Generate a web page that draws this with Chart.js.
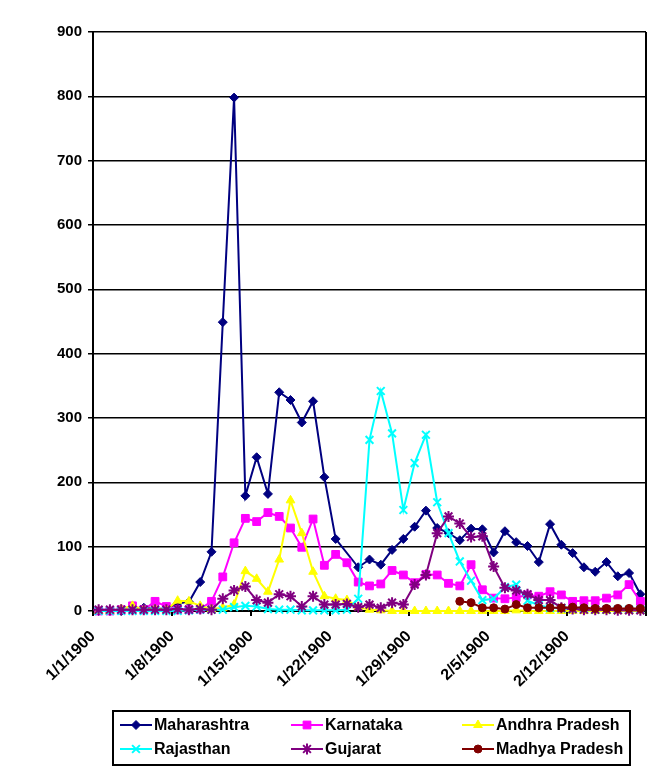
<!DOCTYPE html>
<html lang="en">
<head>
    <meta charset="utf-8">
    <title>Daily cases by state</title>
    <script src="https://cdn.jsdelivr.net/npm/chart.js"></script>
    <style>
        html, body { margin: 0; padding: 0; background: #fff; }
        canvas { display: block; }
    </style>
</head>
<body>
    <canvas id="chart" width="671" height="777"></canvas>
    <script>
        // one category per day, 1/1/1900 .. 2/18/1900
        const dates = [
            '1/1/1900', '1/2/1900', '1/3/1900', '1/4/1900', '1/5/1900', '1/6/1900', '1/7/1900',
            '1/8/1900', '1/9/1900', '1/10/1900', '1/11/1900', '1/12/1900', '1/13/1900', '1/14/1900',
            '1/15/1900', '1/16/1900', '1/17/1900', '1/18/1900', '1/19/1900', '1/20/1900', '1/21/1900',
            '1/22/1900', '1/23/1900', '1/24/1900', '1/25/1900', '1/26/1900', '1/27/1900', '1/28/1900',
            '1/29/1900', '1/30/1900', '1/31/1900', '2/1/1900', '2/2/1900', '2/3/1900', '2/4/1900',
            '2/5/1900', '2/6/1900', '2/7/1900', '2/8/1900', '2/9/1900', '2/10/1900', '2/11/1900',
            '2/12/1900', '2/13/1900', '2/14/1900', '2/15/1900', '2/16/1900', '2/17/1900', '2/18/1900'
        ];

        const maharashtra = [0, 0, 0, 2, 5, 3, 4, 12, 14, 45,
            92, 449, 798, 179, 239, 182, 340, 328, 293, 326,
            208, 112, null, 68, 80, 72, 95, 112, 131, 156,
            129, 121, 110, 128, 127, 91, 124, 107, 101, 76,
            135, 103, 90, 68, 61, 76, 54, 59, 26];
        const karnataka = [0, 0, 2, 8, 2, 15, 7, 2, 2, 3,
            15, 53, 106, 144, 139, 153, 147, 129, 99, 143,
            71, 88, 75, 45, 39, 42, 63, 56, 44, 57,
            56, 43, 39, 72, 33, 20, 19, 21, 25, 23,
            30, 25, 15, 16, 16, 20, 25, 41, 15];
        const andhraPradesh = [0, 0, 3, 8, 2, 3, 2, 16, 15, 8,
            3, 5, 10, 62, 50, 30, 80, 172, 121, 61,
            23, 19, 17, 6, 2, 1, 0, 0, 0, 0,
            0, 0, 0, 0, 0, 0, 0, 1, 0, 0,
            0, 0, 0, 0, 0, 0, 0, 0, 0];
        const rajasthan = [0, 0, 0, 0, 0, 0, 0, 0, 1, 2,
            2, 2, 6, 8, 7, 3, 2, 2, 1, 1,
            1, 1, 2, 19, 266, 342, 276, 157, 230, 274,
            169, 121, 77, 47, 17, 19, 37, 41, 16, 9,
            5, 4, 3, 3, 2, 2, 2, 2, 2];
        const gujarat = [2, 2, 2, 2, 2, 2, 2, 3, 2, 3,
            2, 19, 32, 38, 17, 13, 26, 23, 7, 23,
            10, 10, 11, 6, 10, 5, 13, 10, 41, 56,
            121, 147, 136, 115, 116, 69, 36, 32, 26, 17,
            17, 5, 3, 2, 2, 2, 1, 1, 1];
        const madhyaPradesh = [null, null, null, null, null, null, null, null, null, null,
            null, null, null, null, null, null, null, null, null, null,
            null, null, null, null, null, null, null, null, null, null,
            null, null, 15, 13, 5, 5, 3, 10, 5, 5,
            5, 5, 6, 5, 4, 4, 4, 4, 4];

        const yTicks = [0, 100, 200, 300, 400, 500, 600, 700, 800, 900];

        const FONT = '"Liberation Sans", Arial, sans-serif';

        // points sit in the middle of each day, tick marks on the day boundaries
        function toPoints(values) {
            return values.map((v, i) => ({ x: i + 0.5, y: v }));
        }

        function series(label, values, color, style, radius, borderWidth, order) {
            return {
                label: label,
                data: toPoints(values),
                borderColor: color,
                backgroundColor: color,
                borderWidth: 2,
                pointStyle: style,
                pointRadius: radius,
                pointBackgroundColor: color,
                pointBorderColor: color,
                pointBorderWidth: borderWidth,
                tension: 0,
                spanGaps: true,
                clip: false,
                order: order
            };
        }

        const boxLegend = {
            id: 'boxLegend',
            afterDraw(chart) {
                const ctx = chart.ctx;
                ctx.save();
                ctx.strokeStyle = '#000';
                ctx.lineWidth = 2;
                ctx.strokeRect(113, 711, 517, 54);
                ctx.font = 'bold 16px ' + FONT;
                ctx.textBaseline = 'middle';
                chart.data.datasets.forEach((ds, i) => {
                    const x = 120 + (i % 3) * 171;
                    const y = 725 + Math.floor(i / 3) * 24;
                    ctx.strokeStyle = ds.borderColor;
                    ctx.lineWidth = 2;
                    ctx.beginPath();
                    ctx.moveTo(x, y);
                    ctx.lineTo(x + 32, y);
                    ctx.stroke();
                    ctx.fillStyle = ds.pointBackgroundColor;
                    ctx.strokeStyle = ds.pointBorderColor;
                    ctx.lineWidth = ds.pointBorderWidth;
                    Chart.helpers.drawPoint(ctx, {
                        pointStyle: ds.pointStyle,
                        radius: ds.pointRadius,
                        rotation: 0,
                        borderWidth: ds.pointBorderWidth
                    }, x + 16, y);
                    ctx.fillStyle = '#000';
                    ctx.fillText(ds.label, x + 34, y + 1);
                });
                ctx.restore();
            }
        };

        // right edge of the plot area
        const plotFrame = {
            id: 'plotFrame',
            afterDraw(chart) {
                const a = chart.chartArea;
                const ctx = chart.ctx;
                ctx.save();
                ctx.strokeStyle = '#000';
                ctx.lineWidth = 2;
                ctx.beginPath();
                ctx.moveTo(a.right, a.top);
                ctx.lineTo(a.right, a.bottom);
                ctx.stroke();
                ctx.restore();
            }
        };

        new Chart(document.getElementById('chart'), {
            type: 'line',
            data: {
                datasets: [
                    series('Maharashtra', maharashtra, '#000080', 'rectRot', 4.5, 1, 6),
                    series('Karnataka', karnataka, '#FF00FF', 'rect', 5.5, 1, 5),
                    series('Andhra Pradesh', andhraPradesh, '#FFFF00', 'triangle', 5, 1, 4),
                    series('Rajasthan', rajasthan, '#00FFFF', 'crossRot', 5.5, 2, 3),
                    series('Gujarat', gujarat, '#800080', 'star', 5.5, 2, 2),
                    series('Madhya Pradesh', madhyaPradesh, '#800000', 'circle', 4, 1, 1)
                ]
            },
            options: {
                responsive: false,
                devicePixelRatio: 1,
                animation: false,
                layout: { padding: { top: 32, right: 25, bottom: 0, left: 0 } },
                plugins: {
                    legend: { display: false },
                    tooltip: { enabled: false }
                },
                scales: {
                    x: {
                        type: 'linear',
                        min: 0,
                        max: dates.length,
                        afterFit: (scale) => { scale.height = 166; },
                        afterBuildTicks: (scale) => {
                            const t = [];
                            for (let d = 0; d <= dates.length; d += 7) t.push({ value: d });
                            scale.ticks = t;
                        },
                        ticks: {
                            autoSkip: false,
                            maxRotation: 45,
                            minRotation: 45,
                            padding: 11,
                            color: '#000',
                            font: { family: FONT, size: 16, weight: 'bold' },
                            callback: (value) => dates[value] || ''
                        },
                        grid: {
                            drawOnChartArea: false,
                            drawTicks: true,
                            tickLength: 5,
                            color: '#000',
                            lineWidth: 2
                        },
                        border: { color: '#000', width: 2 }
                    },
                    y: {
                        min: 0,
                        max: 900,
                        afterFit: (scale) => { scale.width = 93; },
                        afterBuildTicks: (scale) => {
                            scale.ticks = yTicks.map(v => ({ value: v }));
                        },
                        ticks: {
                            padding: 6,
                            color: '#000',
                            font: { family: FONT, size: 15, weight: 'bold' }
                        },
                        grid: {
                            color: '#000',
                            lineWidth: 1.5,
                            tickLength: 5
                        },
                        border: { color: '#000', width: 2 }
                    }
                }
            },
            plugins: [boxLegend, plotFrame]
        });
    </script>
</body>
</html>
